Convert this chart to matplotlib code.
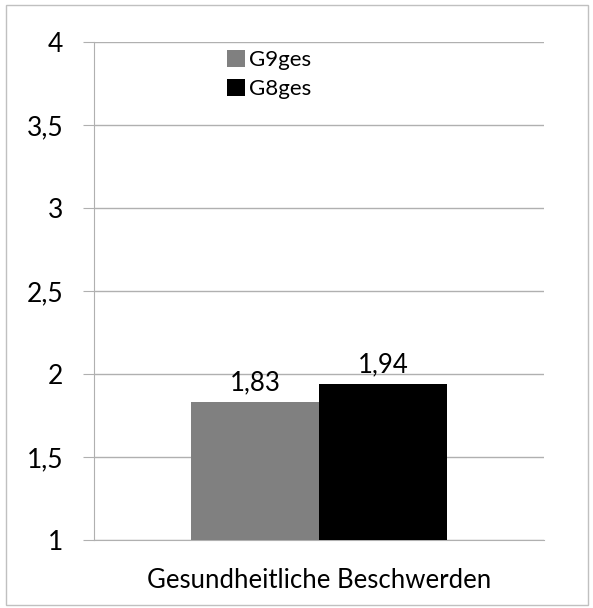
import matplotlib
matplotlib.use("Agg")
import matplotlib.pyplot as plt
from matplotlib.patches import Rectangle

plt.rcParams["font.family"] = ["Lato", "DejaVu Sans"]

category = "Gesundheitliche Beschwerden"
series = ["G9ges", "G8ges"]
values = [1.83, 1.94]
colors = ["#808080", "#000000"]
yticks = [1, 1.5, 2, 2.5, 3, 3.5, 4]

fig = plt.figure(figsize=(5.93, 6.08), dpi=100)
ax = fig.add_axes([94/593, 1 - 540/608, (544-94)/593, (540-42)/608])

w = 0.285
offs = [-w/2, w/2]
for i in range(2):
    ax.bar(offs[i], values[i] - 1, bottom=1, width=w, color=colors[i],
           label=series[i], zorder=3)
    ax.text(offs[i], values[i] + 0.04, ("%.2f" % values[i]).replace(".", ","),
            ha="center", va="bottom", fontsize=18.5)

ax.set_xlim(-0.5, 0.5)
ax.set_ylim(1, 4)
ax.set_yticks(yticks)
ax.set_yticklabels([("%g" % t).replace(".", ",") for t in yticks], fontsize=19)
ax.yaxis.grid(True, color="#b0b0b0", linewidth=1, zorder=0)
ax.tick_params(axis="y", length=8, color="#b0b0b0", pad=14)
ax.set_xticks([0])
ax.set_xticklabels([category], fontsize=18.5)
ax.tick_params(axis="x", length=0, pad=20)
for s in ["top", "right"]:
    ax.spines[s].set_visible(False)
ax.spines["left"].set_color("#b0b0b0")
ax.spines["bottom"].set_color("#b0b0b0")

ax.legend(loc="upper center", bbox_to_anchor=(0.39, 1.025), frameon=False,
          fontsize=16, handlelength=0.8, handleheight=0.8, handletextpad=0.2,
          labelspacing=0.4)

fig.patches.append(Rectangle((6/593, 3/608), 582/593, 600/608, transform=fig.transFigure,
                             fill=False, edgecolor="#c0c0c0", linewidth=1))
fig.savefig("out.png", dpi=100)
